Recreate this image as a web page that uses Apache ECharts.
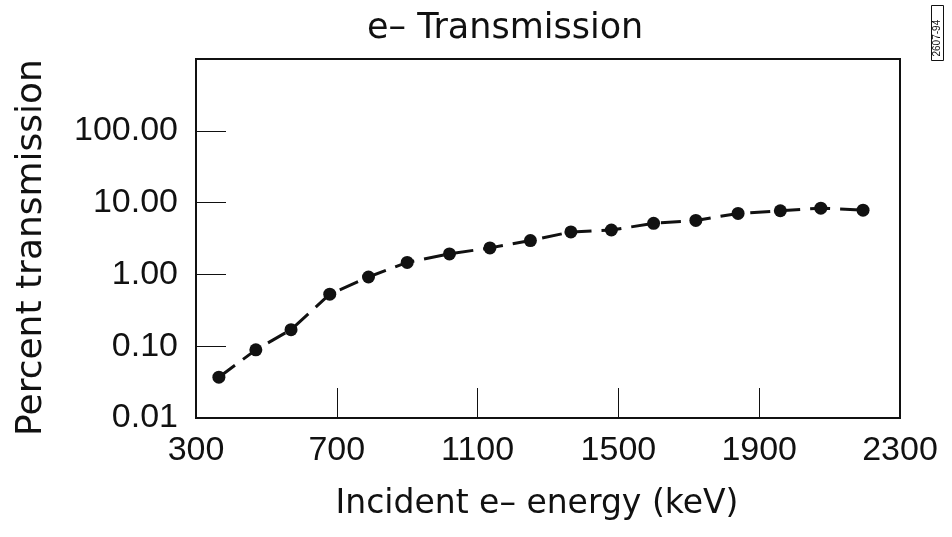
<!DOCTYPE html>
<html>
<head>
<meta charset="utf-8">
<script src="https://cdn.jsdelivr.net/npm/echarts@6/dist/echarts.min.js"></script>
<style>
  html, body { margin: 0; padding: 0; background: #fff; }
  #chart { width: 952px; height: 537px; }
</style>
</head>
<body>
<div id="chart"></div>
<script>
// e- transmission vs incident energy
const energyKeV = [365, 470, 570, 680, 790, 900, 1020, 1135, 1250, 1365, 1480, 1600, 1720, 1840, 1960, 2075, 2195];
const transmission = [0.037, 0.089, 0.17, 0.53, 0.92, 1.47, 1.93, 2.34, 2.96, 3.9, 4.15, 5.14, 5.65, 7.07, 7.7, 8.37, 7.85];

const xTicks = [300, 700, 1100, 1500, 1900, 2300];
const yTicks = [0.01, 0.1, 1, 10, 100, 1000];

const font = "'Liberation Sans', Arial, Helvetica, sans-serif";
const wideFont = "'DejaVu Sans', 'Liberation Sans', sans-serif";
const chart = echarts.init(document.getElementById("chart"), null, { renderer: "canvas" });

const option = {
  backgroundColor: "#fff",
  animation: false,
  title: {
    text: "e\u2013 Transmission",
    left: 362,
    top: 6,
    textStyle: { color: "#111", fontFamily: wideFont, fontSize: 35, fontWeight: "normal" },
  },
  grid: {
    left: 196, right: 52, top: 59, bottom: 119,
    show: true, borderColor: "#111", borderWidth: 2, backgroundColor: "transparent",
  },
  xAxis: {
    type: "value",
    min: xTicks[0],
    max: xTicks[xTicks.length - 1],
    interval: 400,
    name: "Incident e\u2013 energy (keV)",
    nameLocation: "middle",
    nameGap: 70,
    nameTextStyle: { color: "#111", fontFamily: wideFont, fontSize: 33, padding: [0, 22, 0, 0] },
    axisLine: { show: true, lineStyle: { color: "#111", width: 2 } },
    axisTick: { show: true, inside: true, length: 30, lineStyle: { color: "#111", width: 1 } },
    axisLabel: { color: "#111", fontFamily: font, fontSize: 34, margin: 16, formatter: (v) => String(v) },
    splitLine: { show: false },
  },
  yAxis: {
    type: "log",
    logBase: 10,
    min: yTicks[0],
    max: yTicks[yTicks.length - 1],
    name: "Percent transmission",
    nameLocation: "middle",
    nameGap: 146,
    nameTextStyle: { color: "#111", fontFamily: wideFont, fontSize: 36, padding: [0, 18, 0, 0] },
    axisLine: { show: true, lineStyle: { color: "#111", width: 2 } },
    axisTick: { show: true, inside: true, length: 30, lineStyle: { color: "#111", width: 1 } },
    axisLabel: {
      color: "#111", fontFamily: font, fontSize: 34, margin: 18,
      formatter: (v) => (v >= 1000 ? "" : Number(v).toFixed(2)),
    },
    splitLine: { show: false },
  },
  graphic: [
    {
      type: "group",
      left: 931,
      top: 5,
      children: [
        { type: "rect", shape: { x: 0, y: 0, width: 12, height: 55 }, style: { fill: "#fff", stroke: "#111", lineWidth: 1 } },
        {
          type: "text", x: 11, y: 51, rotation: Math.PI / 2,
          style: { text: "2607-94", fill: "#111", font: "10px " + font, textAlign: "left", textVerticalAlign: "bottom" },
        },
      ],
    },
  ],
  series: [
    {
      type: "line",
      data: energyKeV.map((e, i) => [e, transmission[i]]),
      symbol: "circle",
      symbolSize: 13,
      itemStyle: { color: "#111" },
      lineStyle: { color: "#111", width: 3, type: [20, 10] },
    },
  ],
};

chart.setOption(option);
</script>
</body>
</html>
